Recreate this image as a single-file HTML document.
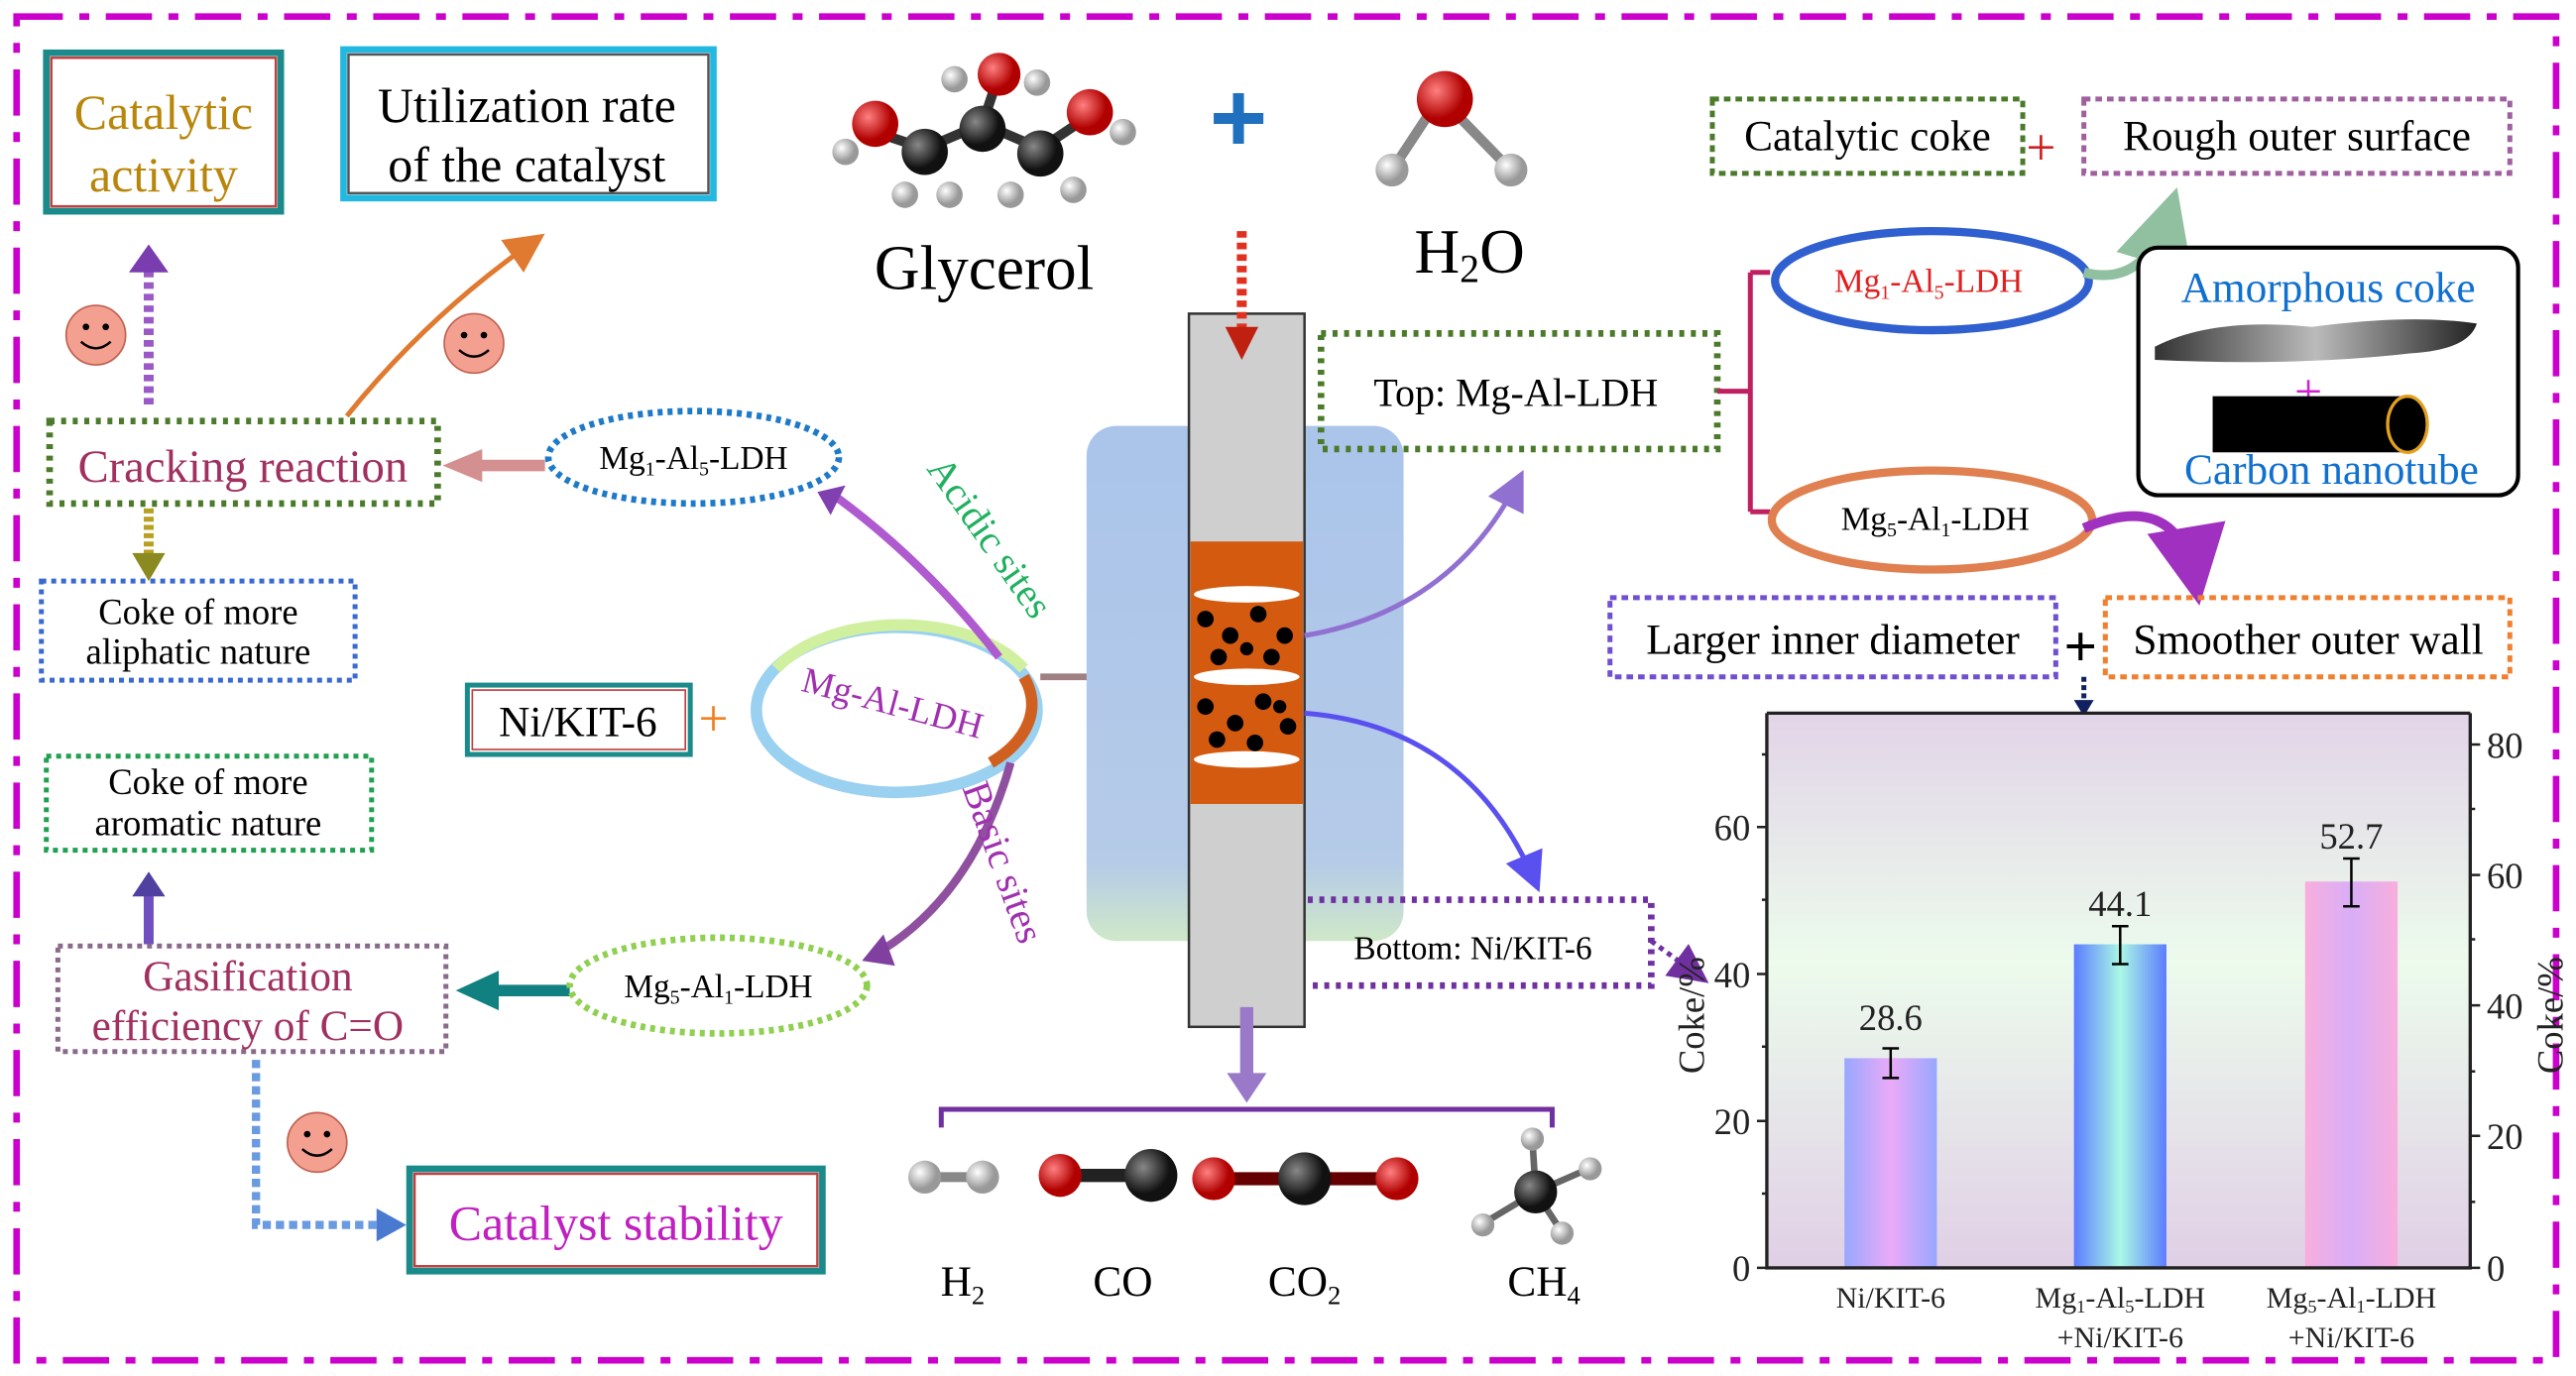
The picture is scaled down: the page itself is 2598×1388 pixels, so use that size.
<!DOCTYPE html>
<html><head><meta charset="utf-8"><style>html,body{margin:0;padding:0;background:#fff}svg{display:block}</style></head>
<body>
<svg width="2598" height="1388" viewBox="0 0 1560 833.5" xmlns="http://www.w3.org/2000/svg" font-family="Liberation Serif, serif">
<defs>
<linearGradient id="bg1" x1="0" y1="0" x2="0" y2="1"><stop offset="0" stop-color="#aac4ea"/><stop offset="0.85" stop-color="#b5cbe8"/><stop offset="1" stop-color="#cfe8c8"/></linearGradient>
<linearGradient id="plot" x1="0" y1="0" x2="0" y2="1"><stop offset="0" stop-color="#e2d4e8"/><stop offset="0.45" stop-color="#ecfbec"/><stop offset="1" stop-color="#e0cfe6"/></linearGradient>
<linearGradient id="b1" x1="0" x2="1"><stop offset="0" stop-color="#98a8ff"/><stop offset="0.5" stop-color="#eaaaf8"/><stop offset="1" stop-color="#98a8ff"/></linearGradient>
<linearGradient id="b2" x1="0" x2="1"><stop offset="0" stop-color="#5c7cff"/><stop offset="0.5" stop-color="#aaf8e6"/><stop offset="1" stop-color="#5c7cff"/></linearGradient>
<linearGradient id="b3" x1="0" x2="1"><stop offset="0" stop-color="#f8aedc"/><stop offset="0.5" stop-color="#d8aef8"/><stop offset="1" stop-color="#f8aedc"/></linearGradient>
<linearGradient id="am" x1="0" x2="1"><stop offset="0" stop-color="#333"/><stop offset="0.5" stop-color="#bbb"/><stop offset="1" stop-color="#222"/></linearGradient>
<radialGradient id="red" cx="0.35" cy="0.35"><stop offset="0" stop-color="#ff8080"/><stop offset="1" stop-color="#b00000"/></radialGradient>
<radialGradient id="blk" cx="0.35" cy="0.35"><stop offset="0" stop-color="#888"/><stop offset="1" stop-color="#111"/></radialGradient>
<radialGradient id="wht" cx="0.35" cy="0.35"><stop offset="0" stop-color="#fff"/><stop offset="1" stop-color="#999"/></radialGradient>
<marker id="ah" markerWidth="8" markerHeight="8" refX="6" refY="4" orient="auto"><path d="M0,0L8,4L0,8z" fill="context-stroke"/></marker>
</defs>

<rect x="10" y="10" width="1538" height="814" fill="none" stroke="#cc00cc" stroke-width="4" stroke-dasharray="28,10,6,10"/>

<rect x="28" y="32" width="142" height="96" fill="#fff" stroke="#1a8a8a" stroke-width="4"/>
<rect x="31" y="35" width="136" height="90" fill="none" stroke="#c04040" stroke-width="1.5"/>
<text x="99" y="78" font-size="30" fill="#b8860b" text-anchor="middle">Catalytic</text>
<text x="99" y="116" font-size="30" fill="#b8860b" text-anchor="middle">activity</text>
<rect x="208" y="30" width="224" height="90" fill="#fff" stroke="#22b8e0" stroke-width="4"/>
<rect x="211" y="33" width="218" height="84" fill="none" stroke="#555" stroke-width="1.5"/>
<text x="319" y="74" font-size="30" text-anchor="middle">Utilization rate</text>
<text x="319" y="110" font-size="30" text-anchor="middle">of the catalyst</text>

<g><circle cx="58" cy="203" r="18" fill="#f4a090" stroke="#c06050"/><circle cx="52" cy="198" r="2"/><circle cx="64" cy="198" r="2"/><path d="M49,207 Q58,215 67,207" fill="none" stroke="#000" stroke-width="1.5"/></g>
<g><circle cx="287" cy="208" r="18" fill="#f4a090" stroke="#c06050"/><circle cx="281" cy="203" r="2"/><circle cx="293" cy="203" r="2"/><path d="M278,212 Q287,220 296,212" fill="none" stroke="#000" stroke-width="1.5"/></g>
<g><circle cx="192" cy="692" r="18" fill="#f4a090" stroke="#c06050"/><circle cx="186" cy="687" r="2"/><circle cx="198" cy="687" r="2"/><path d="M183,696 Q192,704 201,696" fill="none" stroke="#000" stroke-width="1.5"/></g>

<path d="M90,245 L90,160" stroke="#9b59c8" stroke-width="6" stroke-dasharray="4,3"/>
<path d="M78,165 L90,148 L102,165z" fill="#7a3db0"/>
<path d="M210,252 Q260,190 325,145" stroke="#e07a30" stroke-width="3" fill="none" marker-end="url(#ah)"/>
<path d="M330,282 L290,282" stroke="#d49090" stroke-width="7"/>
<path d="M292,272 L268,282 L292,292z" fill="#d49090"/>
<path d="M90,308 L90,340" stroke="#b8a020" stroke-width="6" stroke-dasharray="3,2"/>
<path d="M80,335 L90,352 L100,335z" fill="#8a8a20"/>
<path d="M90,572 L90,540" stroke="#7050c0" stroke-width="6"/>
<path d="M80,543 L90,528 L100,543z" fill="#5040a0"/>
<path d="M345,600 L300,600" stroke="#108080" stroke-width="7"/>
<path d="M302,588 L276,600 L302,612z" fill="#108080"/>
<path d="M155,642 L155,742 L232,742" stroke="#6a9ae0" stroke-width="5" stroke-dasharray="5,3" fill="none"/>
<path d="M228,732 L246,742 L228,752z" fill="#4a7ad0"/>

<rect x="30" y="255" width="235" height="50" fill="none" stroke="#4a7a2a" stroke-width="4" stroke-dasharray="3,4"/>
<text x="147" y="292" font-size="28" fill="#a03060" text-anchor="middle">Cracking reaction</text>
<ellipse cx="420" cy="277" rx="88" ry="28" fill="none" stroke="#1e7ac8" stroke-width="4" stroke-dasharray="3,3"/>
<text x="420" y="284" font-size="20" text-anchor="middle">Mg<tspan font-size="12" dy="4">1</tspan><tspan dy="-4">-Al</tspan><tspan font-size="12" dy="4">5</tspan><tspan dy="-4">-LDH</tspan></text>
<rect x="25" y="352" width="190" height="60" fill="none" stroke="#3a6ad0" stroke-width="3" stroke-dasharray="3,3"/>
<text x="120" y="378" font-size="22" text-anchor="middle">Coke of more</text>
<text x="120" y="402" font-size="22" text-anchor="middle">aliphatic nature</text>
<rect x="283" y="415" width="135" height="42" fill="#fff" stroke="#1a8a8a" stroke-width="3"/>
<rect x="286" y="418" width="129" height="36" fill="none" stroke="#c04040" stroke-width="1"/>
<text x="350" y="446" font-size="26" text-anchor="middle">Ni/KIT-6</text>
<text x="432" y="446" font-size="32" fill="#f08020" text-anchor="middle">+</text>
<rect x="28" y="458" width="197" height="57" fill="none" stroke="#20a050" stroke-width="3" stroke-dasharray="3,3"/>
<text x="126" y="481" font-size="22" text-anchor="middle">Coke of more</text>
<text x="126" y="506" font-size="22" text-anchor="middle">aromatic nature</text>
<rect x="35" y="573" width="235" height="64" fill="none" stroke="#8a6a8a" stroke-width="3" stroke-dasharray="3,3"/>
<text x="150" y="600" font-size="26" fill="#a03060" text-anchor="middle">Gasification</text>
<text x="150" y="630" font-size="26" fill="#a03060" text-anchor="middle">efficiency of C=O</text>
<ellipse cx="435" cy="597" rx="90" ry="29" fill="none" stroke="#90d050" stroke-width="4" stroke-dasharray="3,3"/>
<text x="435" y="604" font-size="20" text-anchor="middle">Mg<tspan font-size="12" dy="4">5</tspan><tspan dy="-4">-Al</tspan><tspan font-size="12" dy="4">1</tspan><tspan dy="-4">-LDH</tspan></text>
<rect x="248" y="708" width="250" height="62" fill="#fff" stroke="#1a8a8a" stroke-width="4"/>
<rect x="251" y="711" width="244" height="56" fill="none" stroke="#c04040" stroke-width="1.5"/>
<text x="373" y="751" font-size="30" fill="#c020c0" text-anchor="middle">Catalyst stability</text>

<ellipse cx="543" cy="430" rx="85" ry="50" fill="none" stroke="#9ad0f0" stroke-width="7"/>
<path d="M470,405 A85,50 0 0 1 620,405" fill="none" stroke="#d0f0a0" stroke-width="7"/>
<path d="M620,410 A85,50 0 0 1 600,462" fill="none" stroke="#d06020" stroke-width="7"/>
<text x="540" y="433" font-size="22" fill="#a030b0" text-anchor="middle" transform="rotate(15 540 428)">Mg-Al-LDH</text>
<path d="M605,398 Q560,340 505,300" stroke="#b05ad0" stroke-width="5" fill="none"/>
<path d="M512,294 L495,298 L503,312z" fill="#8040b0"/>
<path d="M612,462 Q590,540 535,575" stroke="#9050a0" stroke-width="5" fill="none"/>
<path d="M535,566 L522,582 L542,585z" fill="#8040a0"/>
<text x="593" y="330" font-size="24" fill="#20b060" transform="rotate(55 593 330)" text-anchor="middle">Acidic sites</text>
<text x="600" y="525" font-size="24" fill="#a030b0" transform="rotate(70 600 525)" text-anchor="middle">Basic sites</text>
<path d="M720,410 L630,410" stroke="#a08080" stroke-width="4"/>

<rect x="658" y="258" width="192" height="312" rx="18" fill="url(#bg1)"/>
<rect x="720" y="190" width="70" height="432" fill="#cfcfcf" stroke="#333" stroke-width="1.5"/>
<rect x="721" y="328" width="68" height="159" fill="#d45a10"/>
<ellipse cx="755" cy="360" rx="32" ry="5" fill="#fff"/><ellipse cx="755" cy="410" rx="32" ry="5" fill="#fff"/><ellipse cx="755" cy="460" rx="32" ry="5" fill="#fff"/>
<g fill="#000">
<circle cx="730" cy="375" r="5"/><circle cx="745" cy="385" r="5"/><circle cx="762" cy="372" r="5"/><circle cx="778" cy="385" r="5"/><circle cx="738" cy="398" r="5"/><circle cx="770" cy="398" r="5"/><circle cx="755" cy="393" r="4"/>
<circle cx="730" cy="428" r="5"/><circle cx="748" cy="438" r="5"/><circle cx="765" cy="425" r="5"/><circle cx="780" cy="440" r="5"/><circle cx="737" cy="448" r="5"/><circle cx="760" cy="450" r="5"/><circle cx="775" cy="428" r="4"/></g>
<path d="M752,140 L752,200" stroke="#e03020" stroke-width="6" stroke-dasharray="4,3"/>
<path d="M742,198 L752,218 L762,198z" fill="#c02010"/>
<path d="M755,610 L755,655" stroke="#9a7ac8" stroke-width="8"/>
<path d="M743,650 L755,668 L767,650z" fill="#9a7ac8"/>
<path d="M570,683 L570,672 L940,672 L940,683" fill="none" stroke="#7030a0" stroke-width="3"/>
<path d="M790,385 Q880,370 920,290" stroke="#9070d0" stroke-width="3" fill="none" marker-end="url(#ah)"/>
<path d="M790,432 Q890,440 930,535" stroke="#5a50f0" stroke-width="3" fill="none" marker-end="url(#ah)"/>

<g stroke="#333" stroke-width="6">
<line x1="530" y1="80" x2="560" y2="90"/><line x1="560" y1="90" x2="595" y2="75"/><line x1="595" y1="75" x2="630" y2="90"/><line x1="630" y1="90" x2="660" y2="70"/><line x1="595" y1="75" x2="605" y2="45"/></g>
<circle cx="512" cy="92" r="8" fill="url(#wht)"/><circle cx="530" cy="75" r="14" fill="url(#red)"/><circle cx="560" cy="92" r="14" fill="url(#blk)"/><circle cx="548" cy="118" r="8" fill="url(#wht)"/><circle cx="575" cy="118" r="8" fill="url(#wht)"/>
<circle cx="595" cy="78" r="14" fill="url(#blk)"/><circle cx="578" cy="48" r="8" fill="url(#wht)"/><circle cx="605" cy="45" r="13" fill="url(#red)"/><circle cx="628" cy="50" r="8" fill="url(#wht)"/>
<circle cx="630" cy="93" r="14" fill="url(#blk)"/><circle cx="612" cy="118" r="8" fill="url(#wht)"/><circle cx="650" cy="115" r="8" fill="url(#wht)"/><circle cx="660" cy="68" r="14" fill="url(#red)"/><circle cx="680" cy="80" r="8" fill="url(#wht)"/>
<text x="596" y="175" font-size="38" text-anchor="middle">Glycerol</text>
<text x="750" y="92" font-size="60" fill="#2070c0" text-anchor="middle" font-family="Liberation Sans, sans-serif" font-weight="bold">+</text>
<line x1="845" y1="100" x2="868" y2="65" stroke="#888" stroke-width="6"/><line x1="912" y1="100" x2="878" y2="65" stroke="#888" stroke-width="6"/>
<circle cx="875" cy="60" r="17" fill="url(#red)"/><circle cx="843" cy="103" r="10" fill="url(#wht)"/><circle cx="915" cy="103" r="10" fill="url(#wht)"/>
<text x="890" y="165" font-size="38" text-anchor="middle">H<tspan font-size="24" dy="6">2</tspan><tspan dy="-6">O</tspan></text>

<line x1="560" y1="713" x2="595" y2="713" stroke="#888" stroke-width="6"/><circle cx="560" cy="713" r="10" fill="url(#wht)"/><circle cx="595" cy="713" r="10" fill="url(#wht)"/>
<line x1="640" y1="712" x2="698" y2="712" stroke="#222" stroke-width="8"/><circle cx="642" cy="712" r="13" fill="url(#red)"/><circle cx="697" cy="712" r="16" fill="url(#blk)"/>
<line x1="735" y1="714" x2="845" y2="714" stroke="#600" stroke-width="8"/><circle cx="735" cy="714" r="13" fill="url(#red)"/><circle cx="790" cy="714" r="16" fill="url(#blk)"/><circle cx="846" cy="714" r="13" fill="url(#red)"/>
<g stroke="#666" stroke-width="4"><line x1="930" y1="722" x2="928" y2="690"/><line x1="930" y1="722" x2="962" y2="708"/><line x1="930" y1="722" x2="900" y2="740"/><line x1="930" y1="722" x2="945" y2="745"/></g>
<circle cx="930" cy="722" r="13" fill="url(#blk)"/><circle cx="928" cy="690" r="7" fill="url(#wht)"/><circle cx="963" cy="708" r="7" fill="url(#wht)"/><circle cx="898" cy="742" r="7" fill="url(#wht)"/><circle cx="946" cy="747" r="7" fill="url(#wht)"/>
<g font-size="26" text-anchor="middle">
<text x="583" y="785">H<tspan font-size="16" dy="5">2</tspan></text>
<text x="680" y="785">CO</text>
<text x="790" y="785">CO<tspan font-size="16" dy="5">2</tspan></text>
<text x="935" y="785">CH<tspan font-size="16" dy="5">4</tspan></text></g>

<rect x="800" y="202" width="240" height="70" fill="none" stroke="#4a7a2a" stroke-width="4" stroke-dasharray="3,4"/>
<text x="918" y="246" font-size="24" text-anchor="middle">Top: Mg-Al-LDH</text>
<path d="M792,545 L1000,545 L1000,597 L792,597" fill="none" stroke="#7030a0" stroke-width="4" stroke-dasharray="3,4"/>
<text x="892" y="581" font-size="20" text-anchor="middle">Bottom: Ni/KIT-6</text>
<path d="M1000,570 L1030,592" stroke="#7030a0" stroke-width="3" stroke-dasharray="3,3" marker-end="url(#ah)"/>

<path d="M1040,237 L1060,237 M1060,165 L1060,310 M1060,165 L1072,165 M1060,310 L1072,310" stroke="#c02060" stroke-width="3" fill="none"/>
<rect x="1037" y="60" width="188" height="45" fill="none" stroke="#4a7a2a" stroke-width="3" stroke-dasharray="4,3"/>
<text x="1131" y="91" font-size="26" text-anchor="middle">Catalytic coke</text>
<text x="1236" y="100" font-size="32" fill="#d02020" text-anchor="middle">+</text>
<rect x="1262" y="60" width="258" height="45" fill="none" stroke="#a060a0" stroke-width="3" stroke-dasharray="4,3"/>
<text x="1391" y="91" font-size="26" text-anchor="middle">Rough outer surface</text>
<ellipse cx="1170" cy="170" rx="95" ry="30" fill="none" stroke="#3060d0" stroke-width="5"/>
<text x="1168" y="177" font-size="20" fill="#e02020" text-anchor="middle">Mg<tspan font-size="12" dy="4">1</tspan><tspan dy="-4">-Al</tspan><tspan font-size="12" dy="4">5</tspan><tspan dy="-4">-LDH</tspan></text>
<ellipse cx="1170" cy="315" rx="97" ry="30" fill="none" stroke="#e08050" stroke-width="5"/>
<text x="1172" y="321" font-size="20" text-anchor="middle">Mg<tspan font-size="12" dy="4">5</tspan><tspan dy="-4">-Al</tspan><tspan font-size="12" dy="4">1</tspan><tspan dy="-4">-LDH</tspan></text>
<path d="M1262,165 Q1300,175 1315,125" stroke="#90c0a0" stroke-width="6" fill="none" marker-end="url(#ah)"/>
<path d="M1262,320 Q1320,295 1330,355" stroke="#a030c0" stroke-width="6" fill="none" marker-end="url(#ah)"/>
<rect x="1295" y="150" width="230" height="150" rx="12" fill="#fff" stroke="#000" stroke-width="2.5"/>
<text x="1410" y="183" font-size="26" fill="#1070d0" text-anchor="middle">Amorphous coke</text>
<path d="M1305,210 Q1340,192 1400,198 Q1460,190 1500,196 Q1495,212 1460,214 Q1390,222 1305,218z" fill="url(#am)"/>
<text x="1398" y="247" font-size="30" fill="#d020d0" text-anchor="middle">+</text>
<rect x="1340" y="240" width="118" height="34" fill="#000"/>
<ellipse cx="1458" cy="257" rx="12" ry="17" fill="#000" stroke="#e0a020" stroke-width="2"/>
<text x="1412" y="293" font-size="26" fill="#1070d0" text-anchor="middle">Carbon nanotube</text>
<rect x="975" y="362" width="270" height="48" fill="none" stroke="#7050d0" stroke-width="3" stroke-dasharray="4,3"/>
<text x="1110" y="396" font-size="26" text-anchor="middle">Larger inner diameter</text>
<text x="1260" y="403" font-size="34" text-anchor="middle" font-family="Liberation Sans, sans-serif">+</text>
<rect x="1275" y="362" width="245" height="48" fill="none" stroke="#f08030" stroke-width="3" stroke-dasharray="4,3"/>
<text x="1398" y="396" font-size="26" text-anchor="middle">Smoother outer wall</text>
<path d="M1262,410 L1262,428" stroke="#102060" stroke-width="3" stroke-dasharray="3,2"/>
<path d="M1256,424 L1262,434 L1268,424z" fill="#102060"/>

<!-- chart -->
<rect x="1070" y="432" width="426" height="336" fill="url(#plot)"/>
<rect x="1117" y="641" width="56" height="127" fill="url(#b1)"/>
<rect x="1256" y="572" width="56" height="196" fill="url(#b2)"/>
<rect x="1396" y="534" width="56" height="234" fill="url(#b3)"/>
<g stroke="#000" stroke-width="1.5">
<path d="M1145,635 V653 M1140,635 H1150 M1140,653 H1150"/>
<path d="M1284,561 V584 M1279,561 H1289 M1279,584 H1289"/>
<path d="M1424,520 V549 M1419,520 H1429 M1419,549 H1429"/></g>
<path d="M1070,432 H1496 M1070,432 V768 H1496 V432" fill="none" stroke="#222" stroke-width="2"/>
<g stroke="#222" stroke-width="1.5">
<path d="M1070,768 h-6 M1070,679 h-6 M1070,590 h-6 M1070,501 h-6 M1070,723 h-3 M1070,634 h-3 M1070,545 h-3 M1070,457 h-3"/>
<path d="M1496,768 h6 M1496,688 h6 M1496,609 h6 M1496,530 h6 M1496,451 h6 M1496,728 h3 M1496,649 h3 M1496,569 h3 M1496,490 h3"/></g>
<g font-size="22" fill="#222">
<text x="1060" y="776" text-anchor="end">0</text><text x="1060" y="687" text-anchor="end">20</text><text x="1060" y="598" text-anchor="end">40</text><text x="1060" y="509" text-anchor="end">60</text>
<text x="1506" y="776">0</text><text x="1506" y="696">20</text><text x="1506" y="617">40</text><text x="1506" y="538">60</text><text x="1506" y="459">80</text>
<text x="1145" y="624" text-anchor="middle">28.6</text><text x="1284" y="555" text-anchor="middle">44.1</text><text x="1424" y="514" text-anchor="middle">52.7</text>
<text x="1032" y="615" transform="rotate(-90 1032 615)" text-anchor="middle">Coke/%</text>
<text x="1552" y="615" transform="rotate(-90 1552 615)" text-anchor="middle">Coke/%</text></g>
<g font-size="18" fill="#222" text-anchor="middle">
<text x="1145" y="792">Ni/KIT-6</text>
<text x="1284" y="792">Mg<tspan font-size="11" dy="3">1</tspan><tspan dy="-3">-Al</tspan><tspan font-size="11" dy="3">5</tspan><tspan dy="-3">-LDH</tspan></text>
<text x="1284" y="816">+Ni/KIT-6</text>
<text x="1424" y="792">Mg<tspan font-size="11" dy="3">5</tspan><tspan dy="-3">-Al</tspan><tspan font-size="11" dy="3">1</tspan><tspan dy="-3">-LDH</tspan></text>
<text x="1424" y="816">+Ni/KIT-6</text></g>
</svg>
</body></html>
